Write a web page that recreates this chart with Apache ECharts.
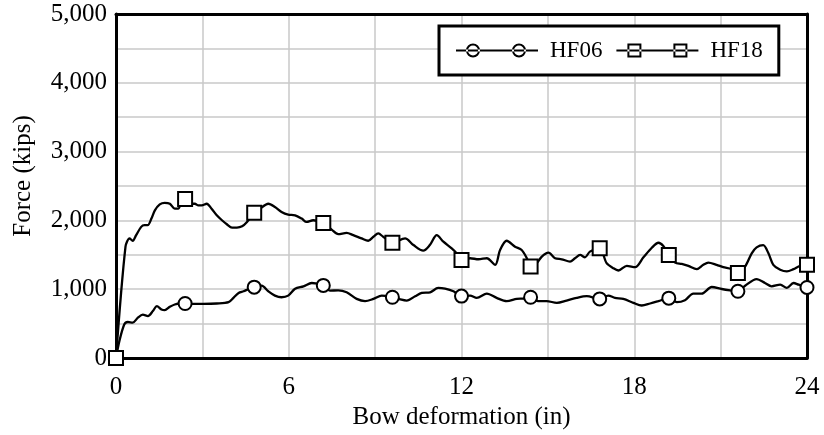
<!DOCTYPE html>
<html>
<head>
<meta charset="utf-8">
<script src="https://cdn.jsdelivr.net/npm/echarts@6/dist/echarts.min.js"></script>
<style>
html,body{margin:0;padding:0;background:#fff;}
#chart{width:824px;height:435px;}
</style>
</head>
<body>
<div id="chart"></div>
<script>
// ---- data ----
const seriesNames = ['HF06', 'HF18'];
const markerX = [0, 2.4, 4.8, 7.2, 9.6, 12, 14.4, 16.8, 19.2, 21.6, 24];

const hf06X = [0, 0.12, 0.29, 0.41, 0.58, 0.76, 0.93, 1.11, 1.28, 1.42, 1.58, 1.69, 1.87, 2.04, 2.22, 2.4, 2.68, 3.03, 3.5, 3.91, 4.08, 4.26, 4.43, 4.61, 4.8, 5.06, 5.29, 5.52, 5.75, 5.98, 6.22, 6.51, 6.8, 7.2, 7.43, 7.72, 8.01, 8.36, 8.65, 8.94, 9.23, 9.6, 9.81, 10.1, 10.39, 10.62, 10.91, 11.19, 11.43, 11.72, 12, 12.3, 12.53, 12.88, 13.22, 13.57, 13.92, 14.15, 14.4, 14.67, 14.96, 15.31, 15.65, 16.0, 16.35, 16.8, 17.1, 17.33, 17.62, 17.97, 18.26, 18.55, 18.84, 19.2, 19.48, 19.76, 20.05, 20.34, 20.69, 21.04, 21.33, 21.6, 21.85, 22.25, 22.54, 22.77, 23.07, 23.3, 23.53, 23.71, 24];
const hf06Y = [0, 250, 490, 523, 514, 586, 629, 610, 682, 754, 706, 696, 744, 778, 792, 792, 787, 787, 792, 811, 874, 946, 970, 1003, 1030, 1051, 970, 907, 883, 907, 1008, 1042, 1090, 1055, 979, 984, 955, 859, 826, 859, 907, 883, 859, 835, 898, 946, 955, 1018, 1008, 970, 900, 907, 874, 936, 874, 826, 859, 864, 883, 826, 826, 802, 835, 874, 898, 859, 907, 874, 859, 802, 763, 792, 826, 870, 811, 840, 936, 936, 1032, 1003, 984, 970, 1051, 1147, 1090, 1042, 1066, 1018, 1090, 1066, 1025];

const hf18X = [0, 0.33, 0.47, 0.58, 0.70, 0.875, 0.99, 1.1, 1.23, 1.35, 1.52, 1.69, 1.87, 2.04, 2.16, 2.28, 2.4, 2.57, 2.74, 2.86, 2.98, 3.15, 3.32, 3.5, 3.68, 3.85, 4.03, 4.2, 4.38, 4.55, 4.8, 5.0, 5.29, 5.52, 5.75, 5.98, 6.22, 6.45, 6.62, 6.85, 7.2, 7.49, 7.72, 8.01, 8.24, 8.53, 8.76, 8.94, 9.11, 9.28, 9.6, 10.04, 10.33, 10.67, 10.9, 11.14, 11.37, 11.66, 11.83, 12, 12.3, 12.59, 12.88, 13.17, 13.34, 13.57, 13.86, 14.09, 14.27, 14.4, 14.61, 14.79, 15.02, 15.25, 15.48, 15.77, 15.94, 16.12, 16.29, 16.46, 16.8, 17.04, 17.27, 17.45, 17.74, 18.03, 18.32, 18.61, 18.84, 19.01, 19.2, 19.42, 19.65, 19.88, 20.17, 20.4, 20.57, 20.86, 21.09, 21.38, 21.6, 21.85, 22.08, 22.25, 22.48, 22.66, 22.83, 23.07, 23.3, 23.53, 23.76, 24];
const hf18Y = [0, 1618, 1738, 1704, 1786, 1906, 1930, 1930, 2026, 2146, 2232, 2256, 2242, 2170, 2170, 2266, 2310, 2242, 2242, 2218, 2218, 2242, 2170, 2074, 2002, 1944, 1896, 1896, 1915, 1978, 2110, 2170, 2242, 2194, 2122, 2083, 2074, 2026, 1978, 2002, 1963, 1867, 1800, 1819, 1786, 1738, 1704, 1762, 1810, 1762, 1675, 1738, 1642, 1560, 1642, 1786, 1690, 1594, 1522, 1426, 1450, 1435, 1450, 1354, 1570, 1704, 1618, 1570, 1450, 1330, 1378, 1474, 1531, 1450, 1435, 1402, 1450, 1498, 1464, 1546, 1594, 1378, 1306, 1272, 1339, 1320, 1464, 1603, 1675, 1627, 1498, 1387, 1368, 1339, 1291, 1354, 1387, 1354, 1320, 1291, 1234, 1330, 1522, 1608, 1640, 1522, 1354, 1282, 1258, 1291, 1339, 1354];

const xTickValues = [0, 6, 12, 18, 24];
const xTickLabels = ['0', '6', '12', '18', '24'];
const yTickValues = [0, 1000, 2000, 3000, 4000, 5000];
const yTickLabels = ['0', '1,000', '2,000', '3,000', '4,000', '5,000'];

const xTitle = 'Bow deformation (in)';
const yTitle = 'Force (kips)';

// ---- chart ----
const FONT = "'Liberation Serif','Times New Roman',serif";
const FS = 25;
const LFS = 23;

function buildData(xs, ys, sym) {
  return xs.map((x, i) => ({
    value: [x, ys[i]],
    symbol: markerX.some(m => Math.abs(m - x) < 1e-6) ? sym : 'none'
  }));
}

// legend icons: line with two hollow markers (82 x 14 box)
const iconCircle = 'path://M0 6 H82 V8 H0 Z ' +
  'M24 7 A7 7 0 1 0 10 7 A7 7 0 1 0 24 7 Z M22 7 A5 5 0 1 1 12 7 A5 5 0 1 1 22 7 Z ' +
  'M70 7 A7 7 0 1 0 56 7 A7 7 0 1 0 70 7 Z M68 7 A5 5 0 1 1 58 7 A5 5 0 1 1 68 7 Z';
const iconSquare = 'path://M0 6 H82 V8 H0 Z ' +
  'M11 0 V14 H25 V0 Z M13 2 H23 V12 H13 Z ' +
  'M57 0 V14 H71 V0 Z M59 2 H69 V12 H59 Z';

const axisLineStyle = { color: '#000', width: 3 };
const gridLineStyle = { color: '#c8c8c8', width: 1.5 };

const chart = echarts.init(document.getElementById('chart'), null, { renderer: 'canvas' });
chart.setOption({
  animation: false,
  backgroundColor: '#fff',
  textStyle: { fontFamily: FONT, color: '#000' },
  grid: { left: 116, right: 17, top: 14, bottom: 77, containLabel: false },
  legend: {
    left: 439, top: 26,
    padding: [13, 16, 13, 17],
    borderColor: '#000', borderWidth: 3,
    backgroundColor: '#fff',
    itemWidth: 82, itemHeight: 14, itemGap: 14,
    itemStyle: { color: '#000', borderWidth: 0 },
    textStyle: { fontFamily: FONT, fontSize: LFS, color: '#000', padding: [0, 0, 0, 7] },
    data: [
      { name: seriesNames[0], icon: iconCircle },
      { name: seriesNames[1], icon: iconSquare }
    ]
  },
  xAxis: [{
    type: 'value', min: 0, max: 24, interval: 3,
    axisLine: { show: true, lineStyle: axisLineStyle },
    axisTick: { show: false },
    splitLine: { show: true, lineStyle: gridLineStyle },
    axisLabel: {
      margin: 17, fontFamily: FONT, fontSize: FS, color: '#000',
      formatter: v => { const i = xTickValues.indexOf(v); return i >= 0 ? xTickLabels[i] : ''; }
    },
    name: xTitle, nameLocation: 'middle', nameGap: 46,
    nameTextStyle: { fontFamily: FONT, fontSize: FS, color: '#000' }
  }, {
    type: 'value', min: 0, max: 24, position: 'top',
    axisLine: { show: true, onZero: false, lineStyle: axisLineStyle },
    axisTick: { show: false }, axisLabel: { show: false }, splitLine: { show: false }
  }],
  yAxis: [{
    type: 'value', min: 0, max: 5000, interval: 500,
    axisLine: { show: true, lineStyle: axisLineStyle },
    axisTick: { show: false },
    splitLine: { show: true, lineStyle: gridLineStyle },
    axisLabel: {
      margin: 9, fontFamily: FONT, fontSize: FS, color: '#000',
      formatter: v => { const i = yTickValues.indexOf(v); return i >= 0 ? yTickLabels[i] : ''; }
    },
    name: yTitle, nameLocation: 'middle', nameGap: 80, nameRotate: 90,
    nameTextStyle: { fontFamily: FONT, fontSize: FS, color: '#000', padding: [0, 0, 0, 20] }
  }, {
    type: 'value', min: 0, max: 5000, position: 'right',
    axisLine: { show: true, onZero: false, lineStyle: axisLineStyle },
    axisTick: { show: false }, axisLabel: { show: false }, splitLine: { show: false }
  }],
  series: [{
    name: seriesNames[0], type: 'line', smooth: 0.3, clip: false,
    symbol: 'circle', symbolSize: 13, showSymbol: true,
    lineStyle: { color: '#000', width: 2.3 },
    itemStyle: { color: '#fff', borderColor: '#000', borderWidth: 2 },
    data: buildData(hf06X, hf06Y, 'circle'), z: 3
  }, {
    name: seriesNames[1], type: 'line', smooth: 0.3, clip: false,
    symbol: 'rect', symbolSize: 14, showSymbol: true,
    lineStyle: { color: '#000', width: 2.3 },
    itemStyle: { color: '#fff', borderColor: '#000', borderWidth: 2 },
    data: buildData(hf18X, hf18Y, 'rect'), z: 4
  }]
});
</script>
</body>
</html>
